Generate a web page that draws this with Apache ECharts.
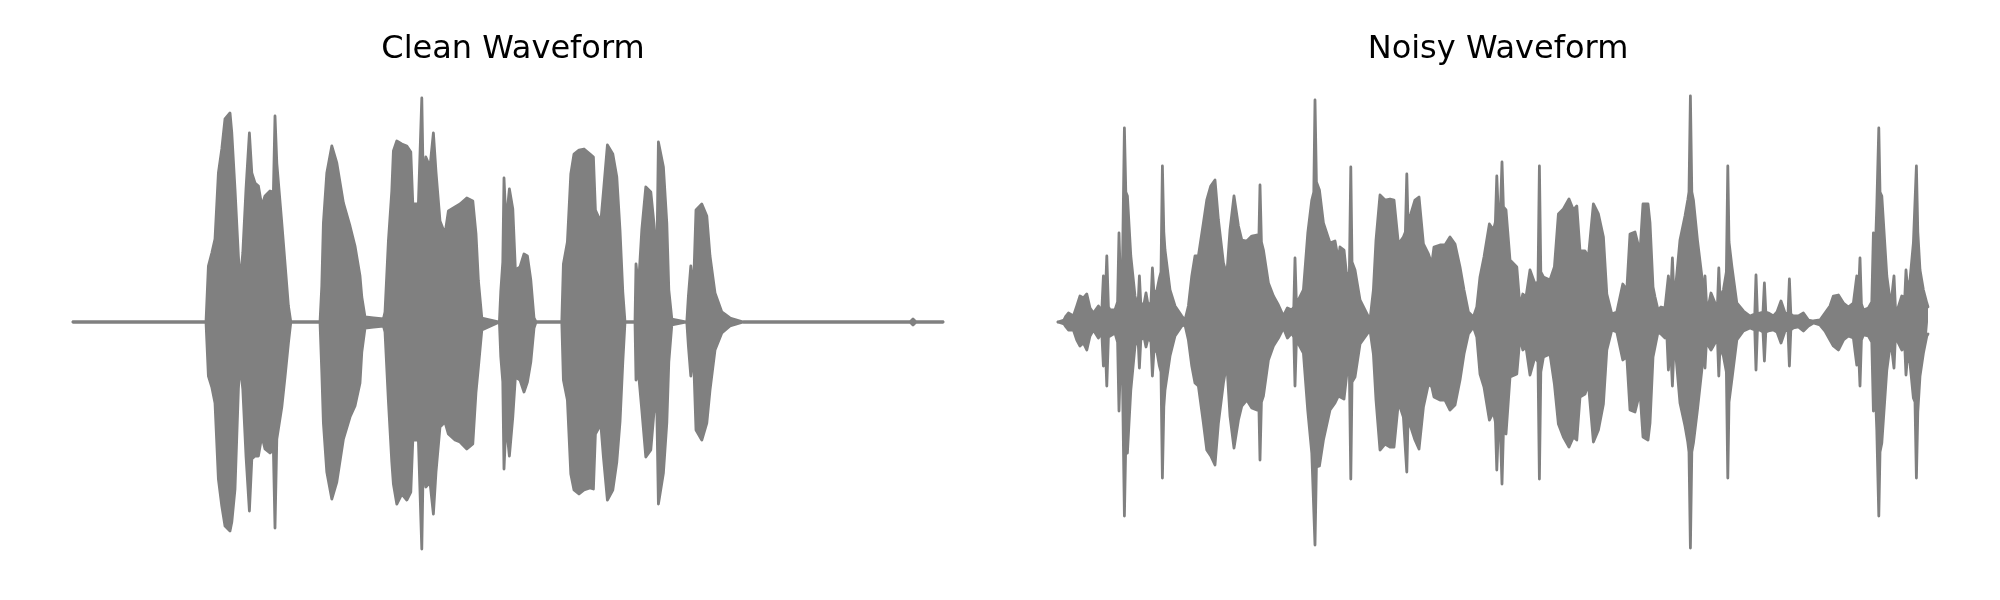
<!DOCTYPE html>
<html>
<head>
<meta charset="utf-8">
<script src="https://cdn.jsdelivr.net/npm/echarts@6/dist/echarts.min.js"></script>
<style>html,body{margin:0;padding:0;background:#fff;}#c{width:2000px;height:600px;}</style>
</head>
<body>
<div id="c"></div>
<script>
// Titles
const titles = ['Clean Waveform', 'Noisy Waveform'];

// Clean waveform envelope: time (ms), upper and lower amplitude (int16 counts)
const cleanTime = [0,665,677,694,710,727,744,760,785,794,
810,827,835,849,865,882,894,910,927,944,
960,985,1002,1010,1019,1044,1060,1077,1089,1235,
1244,1252,1269,1294,1319,1352,1385,1410,1435,1444,
1460,1502,1552,1560,1577,1594,1602,1619,1644,1669,
1689,1699,1727,1735,1744,1752,1764,1785,1802,1815,
1835,1860,1877,1910,1935,1969,1999,2015,2027,2044,
2132,2139,2149,2155,2165,2182,2199,2212,2235,2255,
2272,2289,2305,2315,2444,2452,2472,2489,2505,2530,
2555,2585,2602,2612,2639,2652,2672,2699,2719,2735,
2749,2760,2810,2815,2827,2844,2864,2889,2905,2919,
2927,2935,2952,2969,2979,2994,3069,3077,3089,3102,
3115,3144,3169,3185,3210,3244,3285,3352,4185,4200,
4215,4350];
const cleanUpper = [0,0,5600,6900,8300,14900,17300,20300,20900,18900,
13300,6600,3900,6900,13300,18900,14900,13900,13600,11600,
12600,13100,13000,20600,15900,9900,5900,1600,0,0,
3600,9900,14900,17600,15900,11900,9600,7600,4600,2500,
500,400,300,1000,8100,13100,17100,18100,17800,17600,
17000,11800,11800,12000,22400,13000,16500,15500,18900,15000,
10100,8800,11100,11500,11800,12400,12100,8800,4100,400,
0,3100,6000,14400,9800,13300,11300,5200,5500,6800,
6600,4200,400,0,0,5800,8000,14800,16800,17200,
17300,16800,16500,11200,10000,13000,17700,16800,14500,9200,
3000,0,0,5800,3500,9200,13500,13000,9800,5800,
18000,17900,15500,9900,3200,300,0,2600,5600,3000,
11200,11800,10600,6600,2900,1000,400,0,0,300,
0,0];
const cleanLower = [0,0,-5400,-6500,-8100,-15700,-18400,-20400,-20900,-20000,
-16700,-6700,-4100,-6700,-13400,-18900,-13700,-13400,-13400,-11400,
-12700,-13100,-12800,-20600,-11700,-8500,-5500,-2100,0,0,
-5000,-10100,-15000,-17700,-16000,-11700,-9500,-8400,-6100,-3000,
-600,-500,-400,-1000,-7900,-14000,-16200,-18200,-17200,-17800,
-17000,-11800,-11800,-12000,-22700,-13000,-16500,-16000,-19200,-15000,
-10500,-10000,-11200,-11800,-12000,-12700,-12200,-7000,-4500,-800,
0,-3500,-6000,-14700,-10000,-13400,-9500,-5500,-5800,-7000,
-6000,-4000,-600,0,0,-5800,-7800,-15200,-16800,-17200,
-16800,-16600,-16700,-11200,-10200,-13500,-17800,-16800,-14000,-10000,
-4000,0,0,-5800,-5000,-8800,-13500,-12800,-9000,-8500,
-18200,-18100,-15100,-10100,-4000,-300,0,-2400,-5400,-3000,
-10800,-11800,-10100,-6800,-2800,-1100,-400,0,0,-300,
0,0];

// Noisy waveform envelope: time (ms), upper and lower amplitude (int16 counts)
const noisyTime = [0,30,40,52,77,94,110,127,144,160,
177,202,219,227,235,244,252,260,285,298,
305,312,322,332,339,347,364,385,400,407,
414,430,440,452,465,472,480,495,507,515,
522,529,535,560,585,619,635,652,669,685,
702,727,744,764,785,802,827,844,860,880,
902,919,944,969,994,1004,1010,1017,1027,1052,
1077,1102,1127,1147,1169,1179,1185,1192,1202,1227,
1249,1269,1279,1285,1292,1307,1327,1360,1385,1402,
1410,1430,1444,1457,1464,1470,1485,1510,1535,1560,
1577,1590,1610,1635,1660,1680,1702,1727,1737,1744,
1750,1764,1785,1805,1827,1852,1869,1880,1910,1935,
1960,1985,2010,2030,2052,2077,2094,2110,2130,2157,
2177,2187,2194,2202,2212,2220,2227,2240,2260,2294,
2310,2317,2324,2340,2360,2385,2400,2407,2414,2427,
2460,2482,2502,2527,2555,2577,2594,2610,2635,2652,
2677,2702,2727,2744,2769,2794,2824,2844,2860,2885,
2910,2925,2950,2960,2975,2985,3000,3015,3035,3044,
3052,3062,3072,3080,3090,3110,3135,3149,3155,3162,
3169,3177,3197,3219,3227,3235,3242,3252,3265,3285,
3297,3304,3310,3327,3342,3349,3355,3369,3394,3427,
3460,3484,3490,3497,3510,3525,3532,3539,3552,3577,
3595,3615,3635,3650,3657,3664,3677,3702,3727,3752,
3777,3810,3835,3860,3877,3902,3927,3952,3977,3994,
4002,4010,4017,4027,4052,4069,4077,4085,4094,4104,
4110,4119,4144,4164,4174,4180,4187,4197,4219,4234,
4240,4247,4260,4277,4285,4292,4299,4310,4327,4344,
4350];
const noisyUpper = [0,200,600,900,600,1600,2600,2400,2800,1400,
900,1600,1100,4600,1500,6600,1500,1200,1200,2000,
8900,4000,5000,19400,13000,12600,6600,2600,1500,4600,
1800,1800,2900,1500,2000,5400,2800,3200,4400,5000,
15600,9000,7200,3200,1600,600,200,1600,4600,6600,
6600,9900,12200,13600,14200,10200,5900,4700,9200,12600,
9600,8200,8100,8600,8700,8000,13700,8000,7200,3900,
2600,1700,600,1400,1200,1500,6400,1800,1900,3200,
8900,12200,13000,22200,14000,13200,9900,7900,8100,6200,
7500,7200,4500,5000,15500,6000,5200,2200,1200,200,
3200,8200,12700,12200,12300,12200,7800,8500,9000,14800,
10000,10800,12200,12500,7800,6800,5800,7500,7700,7700,
8500,7800,5500,3200,1000,500,1500,4500,6500,9800,
9200,10000,14600,10500,11000,16000,11500,11200,6200,5500,
1500,1500,2800,2500,5200,3800,4000,15600,5000,4500,
4200,5500,10800,11300,12300,11200,11600,7100,7100,6500,
11800,10800,8500,2800,800,1000,3800,3200,8800,9000,
7000,11800,11800,9900,3500,2500,1200,1500,1400,1200,
4600,2000,6400,2500,3900,8200,10600,12200,13000,22600,
13000,12200,8200,4600,2500,4600,2000,1600,2900,1900,
1500,5400,2500,3200,5000,15600,8000,5600,1900,1100,
600,800,4700,800,900,1000,3900,1000,900,600,
1000,2100,900,800,4300,800,600,600,900,200,
100,200,900,1600,2600,2700,1900,1500,1900,4600,
2500,6400,1800,1200,1400,2000,8900,6000,11600,19400,
13000,12600,4600,1600,1800,4600,1500,1200,2600,2500,
5200,3500,4200,7900,8000,15600,9000,5200,3200,1900,
1500];
const noisyLower = [0,-200,-500,-800,-800,-1800,-2400,-2100,-2800,-1400,
-800,-1600,-1100,-4400,-1500,-6400,-1500,-1400,-1100,-2000,
-8900,-4000,-5000,-19400,-12000,-13100,-6800,-2400,-1500,-4600,
-1800,-1500,-2500,-1500,-2000,-5400,-2800,-3000,-4400,-5000,
-15600,-8500,-6800,-3400,-1400,-400,-300,-1800,-4400,-6100,
-6400,-10100,-12800,-13400,-14300,-10100,-6100,-4100,-9400,-12600,
-9800,-8400,-7800,-8600,-8800,-8000,-13800,-8000,-7400,-3800,
-2400,-1600,-600,-1600,-1100,-1500,-6400,-1800,-1800,-3100,
-8900,-13100,-13000,-22300,-14500,-14400,-11800,-8800,-8100,-7400,
-7500,-7700,-5200,-5000,-15700,-6000,-5500,-2200,-1500,-800,
-3200,-7800,-12800,-12200,-12500,-12500,-8000,-9500,-9500,-15000,
-10000,-10500,-11800,-12700,-8500,-6200,-6500,-7500,-7800,-7800,
-8800,-8300,-5800,-3200,-1200,-500,-1500,-5200,-6500,-9800,
-9000,-10000,-14800,-10500,-11000,-16200,-11000,-11200,-5500,-5200,
-1500,-1500,-2800,-2500,-5300,-3500,-4000,-15700,-5000,-3500,
-3200,-6200,-10200,-11500,-12500,-11500,-11800,-7500,-7200,-6200,
-12000,-10800,-8200,-2800,-800,-1000,-3800,-3500,-8800,-9000,
-7000,-11500,-11800,-10100,-3500,-2500,-1000,-1200,-1600,-1200,
-4800,-2000,-6400,-2500,-3500,-8100,-10400,-12000,-13000,-22600,
-13000,-12100,-8800,-4800,-2500,-4600,-2000,-1800,-2800,-2100,
-1500,-5400,-2500,-3400,-5000,-15600,-8000,-5800,-1800,-900,
-600,-800,-4800,-800,-800,-1000,-3900,-1000,-900,-800,
-1000,-2100,-900,-800,-4400,-800,-600,-500,-900,-400,
-100,-300,-900,-1800,-2400,-2800,-1800,-1400,-1600,-4300,
-2500,-6400,-1800,-1300,-1400,-2000,-8900,-6000,-10800,-19400,
-13000,-12100,-4800,-1800,-1800,-4600,-1500,-1600,-2800,-2500,
-5300,-3500,-4100,-7600,-8000,-15600,-9000,-5400,-3100,-1400,
-1200];

const GRAY = '#808080';
function zip(t, v) { return t.map((x, i) => [x, v[i]]); }
function envSeries(t, v, idx) {
  return {
    type: 'line', xAxisIndex: idx, yAxisIndex: idx,
    data: zip(t, v), showSymbol: false, symbol: 'none',
    silent: true, animation: false,
    lineStyle: { color: GRAY, width: 2.8, join: 'round', cap: 'round' },
    areaStyle: { color: GRAY, opacity: 1, origin: 0 }
  };
}

const titleStyle = { fontFamily: 'DejaVu Sans', fontSize: 32, fontWeight: 'normal', color: '#000' };
const chart = echarts.init(document.getElementById('c'), null, { renderer: 'canvas' });
chart.setOption({
  backgroundColor: '#ffffff',
  animation: false,
  title: [
    { text: titles[0], left: 508, top: 29, textAlign: 'center', textStyle: titleStyle },
    { text: titles[1], left: 1493, top: 29, textAlign: 'center', textStyle: titleStyle }
  ],
  grid: [
    { left: 73, width: 870, top: 72, height: 500 },
    { left: 1058, width: 870, top: 72, height: 500 }
  ],
  xAxis: [
    { type: 'value', gridIndex: 0, min: 0, max: 4350, show: false },
    { type: 'value', gridIndex: 1, min: 0, max: 4350, show: false }
  ],
  yAxis: [
    { type: 'value', gridIndex: 0, min: -25000, max: 25000, show: false },
    { type: 'value', gridIndex: 1, min: -25000, max: 25000, show: false }
  ],
  series: [
    envSeries(cleanTime, cleanUpper, 0),
    envSeries(cleanTime, cleanLower, 0),
    envSeries(noisyTime, noisyUpper, 1),
    envSeries(noisyTime, noisyLower, 1)
  ]
});
</script>
</body>
</html>
